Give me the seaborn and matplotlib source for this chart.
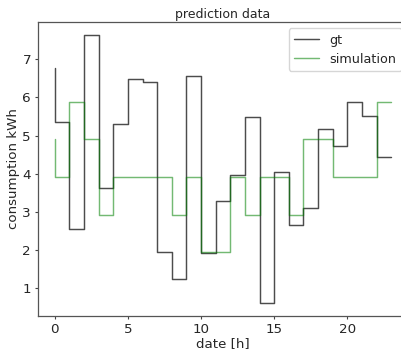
import numpy as np
import pandas as pd
import matplotlib
matplotlib.use("Agg")
import matplotlib.pyplot as plt
import seaborn as sns

hours = list(range(24))
gt = [6.77, 5.36, 2.56, 7.62, 3.62, 5.29, 6.49, 6.40, 1.95, 1.26, 6.56, 1.93,
      3.28, 3.96, 5.49, 0.63, 4.05, 2.65, 3.11, 5.16, 4.72, 5.89, 5.51, 4.44]
simulation = [4.90, 3.92, 5.87, 4.90, 2.93, 3.92, 3.92, 3.92, 3.92, 2.93, 3.92, 1.95,
              1.95, 3.92, 2.93, 3.92, 3.92, 2.93, 4.90, 4.90, 3.92, 3.92, 3.92, 5.87]

sns.set_style("ticks")
plt.rcParams['font.family'] = ['DejaVu Sans']

df = pd.DataFrame({"hour": hours, "gt": gt, "simulation": simulation})

fig = plt.figure(figsize=(4.02, 3.5), dpi=100)
ax = fig.add_axes([38/402, 34/350, 370/402, 294/350])

sns.lineplot(data=df, x="hour", y="gt", ax=ax, color="black", alpha=0.7,
             linewidth=1.05, drawstyle="steps-pre", label="gt", estimator=None)
sns.lineplot(data=df, x="hour", y="simulation", ax=ax, color="green", alpha=0.55,
             linewidth=1.05, drawstyle="steps-pre", label="simulation", estimator=None)

ax.set_title("prediction data", fontsize=9.0, pad=3)
ax.set_xlabel("date [h]", fontsize=9.6, labelpad=0.5)
ax.set_ylabel("consumption kWh", fontsize=9.6, labelpad=2)
ax.set_xticks([0, 5, 10, 15, 20])
ax.set_yticks([1, 2, 3, 4, 5, 6, 7])
ax.tick_params(labelsize=9.7, length=2.5, width=0.8, pad=2.5, color="#444444")
for s in ax.spines.values():
    s.set_color("#555555")
    s.set_linewidth(0.9)
leg = ax.legend(loc="upper right", fontsize=9.2, handlelength=2.0)
ax.margins(x=0.05, y=0.05)

fig.savefig("out.png", dpi=100)
